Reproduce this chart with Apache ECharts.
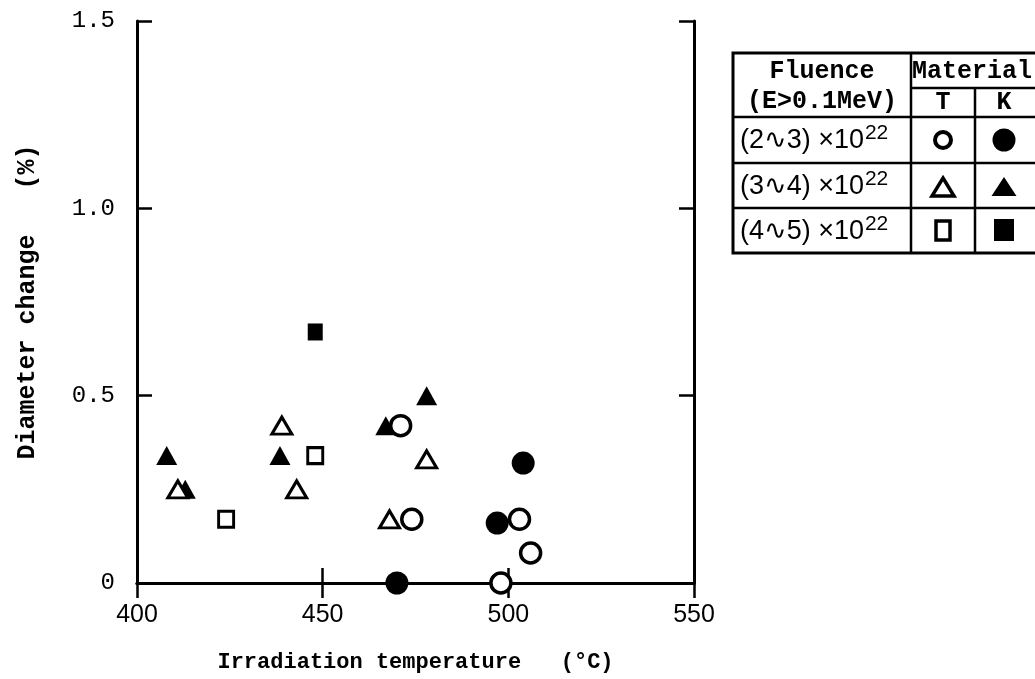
<!DOCTYPE html>
<html>
<head>
<meta charset="utf-8">
<script src="https://cdn.jsdelivr.net/npm/echarts@6/dist/echarts.min.js"></script>
<style>
html,body{margin:0;padding:0;background:#fff;}
#chart{width:1035px;height:679px;}
</style>
</head>
<body>
<div id="chart"></div>
<script>
// ---- data (temperature °C, diameter change %) ----
var T_2to3 = [[471, 0.42], [474, 0.17], [503, 0.17], [506, 0.08], [498, 0.0]];
var K_2to3 = [[470, 0.0], [497, 0.16], [504, 0.32]];
var T_3to4 = [[439, 0.42], [411, 0.25], [443, 0.25], [468, 0.17], [478, 0.33]];
var K_3to4 = [[408, 0.34], [413, 0.25], [438.5, 0.34], [467, 0.42], [478, 0.50]];
var T_4to5 = [[424, 0.17], [448, 0.34]];
var K_4to5 = [[448, 0.67]];

var xTickLabels = {400: '400', 450: '450', 500: '500', 550: '550'};
var yTickLabels = {0: '0', 0.5: '0.5', 1: '1.0', 1.5: '1.5'};

var legendHeader = ['Fluence', '(E>0.1MeV)', 'Material', 'T', 'K'];
var legendRows = [
  {range: '(2\u223F3)', exp: '22'},
  {range: '(3\u223F4)', exp: '22'},
  {range: '(4\u223F5)', exp: '22'}
];

var MONO = '"Liberation Mono", "DejaVu Sans Mono", monospace';
var SANS = '"Liberation Sans", "DejaVu Sans", sans-serif';

var chart = echarts.init(document.getElementById('chart'), null, {renderer: 'canvas'});

var axisLine = {show: true, lineStyle: {color: '#000', width: 3}};
var tick = {show: true, inside: true, length: 15, lineStyle: {color: '#000', width: 2.5}};

function openStyle(w) { return {color: '#fff', borderColor: '#000', borderWidth: w, opacity: 1}; }
function fillStyle() { return {color: '#000', borderColor: '#000', borderWidth: 0, opacity: 1}; }

// ---- legend table (graphic) ----
var TX = 733, TY = 53, TW = 300, TH = 200;
var c1 = 911, c2 = 975;
var lw = 2.5;
var g = [];
g.push({type: 'rect', shape: {x: TX, y: TY, width: TW + 10, height: TH}, style: {fill: '#fff', stroke: '#000', lineWidth: 3}, z: 10});
function line(x1, y1, x2, y2) {
  g.push({type: 'line', shape: {x1: x1, y1: y1, x2: x2, y2: y2}, style: {stroke: '#000', lineWidth: lw}, z: 11});
}
line(c1, TY, c1, TY + TH);
line(c2, 88, c2, TY + TH);
line(c1, 88, 1035, 88);
line(TX, 117, 1035, 117);
line(TX, 163, 1035, 163);
line(TX, 208, 1035, 208);
function txt(s, x, y, align, size, font) {
  g.push({type: 'text', x: x, y: y, style: {text: s, fill: '#000', font: 'bold ' + size + 'px ' + font, align: align, verticalAlign: 'middle'}, z: 12});
}
txt(legendHeader[0], 822, 72, 'center', 25, MONO);
txt(legendHeader[1], 822, 102, 'center', 25, MONO);
txt(legendHeader[2], 912, 72, 'left', 25, MONO);
txt(legendHeader[3], 943, 103, 'center', 25, MONO);
txt(legendHeader[4], 1004, 103, 'center', 25, MONO);
var rowCy = [141, 187, 232];
legendRows.forEach(function (r, i) {
  g.push({
    type: 'text', x: 740, y: rowCy[i], z: 12,
    style: {
      text: '{a|' + r.range + ' \u00D710}{s|' + r.exp + '}',
      verticalAlign: 'middle', align: 'left',
      rich: {
        a: {fontSize: 27, fontFamily: SANS, fill: '#000', lineHeight: 32},
        s: {fontSize: 21, fontFamily: SANS, fill: '#000', padding: [0, 0, 16, 1], lineHeight: 32}
      }
    }
  });
});
// symbols
var tx = 943, kx = 1004;
g.push({type: 'circle', shape: {cx: tx, cy: 140, r: 8}, style: {fill: '#fff', stroke: '#000', lineWidth: 4}, z: 12});
g.push({type: 'circle', shape: {cx: kx, cy: 140, r: 11.5}, style: {fill: '#000'}, z: 12});
g.push({type: 'polygon', shape: {points: [[tx, 178], [tx + 11, 196], [tx - 11, 196]]}, style: {fill: '#fff', stroke: '#000', lineWidth: 3.5, lineJoin: 'miter'}, z: 12});
g.push({type: 'polygon', shape: {points: [[kx, 177], [kx + 12.5, 196], [kx - 12.5, 196]]}, style: {fill: '#000'}, z: 12});
g.push({type: 'rect', shape: {x: tx - 7, y: 221, width: 14, height: 19}, style: {fill: '#fff', stroke: '#000', lineWidth: 3.5}, z: 12});
g.push({type: 'rect', shape: {x: kx - 10, y: 219, width: 20, height: 22}, style: {fill: '#000'}, z: 12});

function sc(name, data, symbol, size, style) {
  return {
    name: name, type: 'scatter', data: data, symbol: symbol, symbolSize: size,
    itemStyle: style, xAxisIndex: 0, yAxisIndex: 0, silent: true
  };
}

var option = {
  animation: false,
  backgroundColor: '#fff',
  grid: {left: 137, right: 341, top: 21, bottom: 96, containLabel: false},
  xAxis: [{
    type: 'value', position: 'bottom', min: 400, max: 550, interval: 50,
    name: 'Irradiation temperature   (\u00B0C)', nameLocation: 'middle', nameGap: 68,
    nameTextStyle: {fontFamily: MONO, fontSize: 22, fontWeight: 'bold', color: '#000'},
    axisLine: axisLine, axisTick: tick, splitLine: {show: false},
    axisLabel: {margin: 20, fontFamily: SANS, fontSize: 25, color: '#000',
      formatter: function (v) { return xTickLabels[v] !== undefined ? xTickLabels[v] : ''; }}
  }, {
    type: 'value', position: 'top', min: 400, max: 550, interval: 50,
    axisLine: axisLine, axisTick: tick, splitLine: {show: false}, axisLabel: {show: false}
  }],
  yAxis: [{
    type: 'value', position: 'left', min: 0, max: 1.5, interval: 0.5,
    name: 'Diameter change   (%)', nameLocation: 'middle', nameGap: 97, nameRotate: 90,
    nameTextStyle: {fontFamily: MONO, fontSize: 25, fontWeight: 'bold', color: '#000'},
    axisLine: axisLine, axisTick: tick, splitLine: {show: false},
    axisLabel: {margin: 22, fontFamily: MONO, fontSize: 24, color: '#000',
      formatter: function (v) { return yTickLabels[v] !== undefined ? yTickLabels[v] : ''; }}
  }, {
    type: 'value', position: 'right', min: 0, max: 1.5, interval: 0.5,
    axisLine: axisLine, axisTick: tick, splitLine: {show: false}, axisLabel: {show: false}
  }],
  graphic: g,
  series: [
    sc('K (2~3)', K_2to3, 'circle', 23, fillStyle()),
    sc('K (3~4)', K_3to4, 'triangle', [21, 19], fillStyle()),
    sc('K (4~5)', K_4to5, 'rect', [15, 17], fillStyle()),
    sc('T (2~3)', T_2to3, 'circle', 20, openStyle(3.5)),
    sc('T (3~4)', T_3to4, 'triangle', [20, 17], openStyle(3)),
    sc('T (4~5)', T_4to5, 'rect', [15, 16], openStyle(3))
  ]
};
chart.setOption(option);
</script>
</body>
</html>
